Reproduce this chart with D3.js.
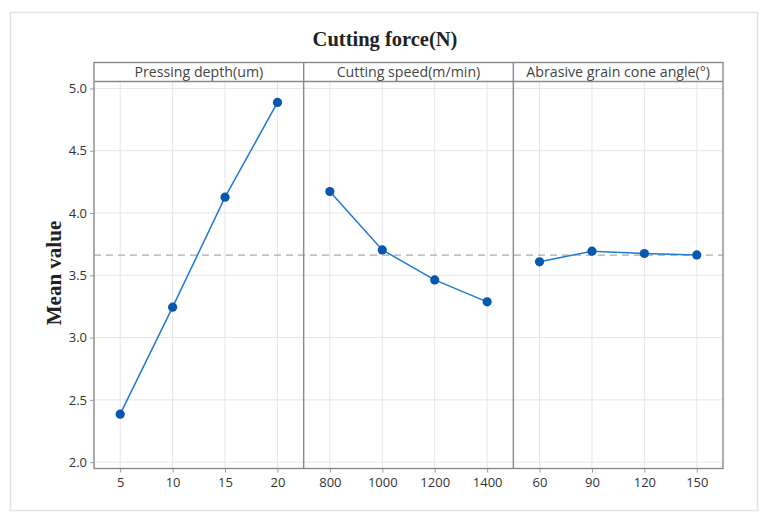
<!DOCTYPE html>
<html><head><meta charset="utf-8">
<script src="https://cdn.jsdelivr.net/npm/d3@7"></script>
<style>body{margin:0;background:#fff}</style>
</head><body>
<svg id="c" width="764" height="520"></svg>
<script>
const title = "Cutting force(N)";
const yLabel = "Mean value";
const factors = ["Pressing depth(um)", "Cutting speed(m/min)", "Abrasive grain cone angle(°)"];
const levelsPressing = ["5", "10", "15", "20"];
const levelsSpeed = ["800", "1000", "1200", "1400"];
const levelsAngle = ["60", "90", "120", "150"];
const meansPressing = [2.385, 3.244, 4.127, 4.888];
const meansSpeed = [4.173, 3.704, 3.463, 3.287];
const meansAngle = [3.608, 3.694, 3.675, 3.664];
const grandMean = 3.662;
const yTicks = [2.0, 2.5, 3.0, 3.5, 4.0, 4.5, 5.0];

const panels = [
  {name: factors[0], levels: levelsPressing, means: meansPressing},
  {name: factors[1], levels: levelsSpeed, means: meansSpeed},
  {name: factors[2], levels: levelsAngle, means: meansAngle}
];

const svg = d3.select("#c");
const L = 94, R = 723, T = 81.5, B = 468.5, stripTop = 62.5;
const font = "'Segoe UI','Open Sans','Noto Sans',sans-serif";

// outer frame
svg.append("rect").attr("x", 10.5).attr("y", 12.5).attr("width", 747).attr("height", 498)
  .attr("fill", "none").attr("stroke", "#e3e3e3").attr("stroke-width", 1.5);

const y = d3.scaleLinear().domain([1.949, 5.056]).range([B, T]);
const px = d3.scaleBand().domain(d3.range(panels.length)).range([L, R]).padding(0);

// title
svg.append("text").attr("x", 385).attr("y", 46).attr("text-anchor", "middle")
  .attr("font-family", "'Liberation Serif','Times New Roman',serif").attr("font-weight", "bold")
  .attr("font-size", 20.5).attr("fill", "#222").text(title);

// y label
svg.append("text").attr("transform", `translate(61,${(T + B) / 2 - 2}) rotate(-90)`)
  .attr("text-anchor", "middle")
  .attr("font-family", "'Liberation Serif','Times New Roman',serif").attr("font-weight", "bold")
  .attr("font-size", 21).attr("fill", "#222").text(yLabel);

// horizontal gridlines
svg.append("g").selectAll("line").data(yTicks).join("line")
  .attr("x1", L).attr("x2", R).attr("y1", d => y(d)).attr("y2", d => y(d))
  .attr("stroke", "#e6e6e6").attr("stroke-width", 1);

panels.forEach((p, i) => {
  const x0 = px(i), x1 = px(i) + px.bandwidth();
  const x = d3.scalePoint().domain(p.levels).range([x0, x1]).padding(0.5);
  const g = svg.append("g");
  g.selectAll("line.vg").data(p.levels).join("line").attr("class", "vg")
    .attr("x1", d => x(d)).attr("x2", d => x(d)).attr("y1", T).attr("y2", B)
    .attr("stroke", "#e6e6e6").attr("stroke-width", 1);
  const ax = svg.append("g").attr("transform", `translate(0,${B})`)
    .call(d3.axisBottom(x).tickSize(4).tickPadding(5).tickSizeOuter(0));
  ax.select(".domain").remove();
  ax.selectAll("line").attr("stroke", "#999");
  ax.selectAll("text").attr("font-family", font).attr("font-size", 13).attr("fill", "#333");
  svg.append("text").attr("x", (x0 + x1) / 2).attr("y", stripTop + 14.5).attr("text-anchor", "middle")
    .attr("font-family", font).attr("font-size", 14.2).attr("fill", "#444").text(p.name);
  p.x = x;
});

// dashed grand mean
svg.append("line").attr("x1", L).attr("x2", R).attr("y1", y(grandMean)).attr("y2", y(grandMean))
  .attr("stroke", "#aaa").attr("stroke-width", 1.3).attr("stroke-dasharray", "7,5");

panels.forEach(p => {
  const line = d3.line().x((d, j) => p.x(p.levels[j])).y(d => y(d));
  svg.append("path").datum(p.means).attr("d", line).attr("fill", "none")
    .attr("stroke", "#1f7ad1").attr("stroke-width", 1.5);
  svg.append("g").selectAll("circle").data(p.means).join("circle")
    .attr("cx", (d, j) => p.x(p.levels[j])).attr("cy", d => y(d)).attr("r", 4.6)
    .attr("fill", "#0657ad");
});

// panel borders
svg.append("rect").attr("x", L).attr("y", stripTop).attr("width", R - L).attr("height", B - stripTop)
  .attr("fill", "none").attr("stroke", "#8a8a8a").attr("stroke-width", 1.4);
svg.append("line").attr("x1", L).attr("x2", R).attr("y1", T).attr("y2", T)
  .attr("stroke", "#8a8a8a").attr("stroke-width", 1.4);
svg.append("g").selectAll("line").data(d3.range(1, panels.length)).join("line")
  .attr("x1", d => px(d)).attr("x2", d => px(d)).attr("y1", stripTop).attr("y2", B)
  .attr("stroke", "#8a8a8a").attr("stroke-width", 1.4);

// y axis
const ay = svg.append("g").attr("transform", `translate(${L},0)`)
  .call(d3.axisLeft(y).tickValues(yTicks).tickFormat(d3.format(".1f")).tickSize(4).tickPadding(3).tickSizeOuter(0));
ay.select(".domain").remove();
ay.selectAll("line").attr("stroke", "#999");
ay.selectAll("text").attr("font-family", font).attr("font-size", 13).attr("fill", "#333");
</script>
</body></html>
